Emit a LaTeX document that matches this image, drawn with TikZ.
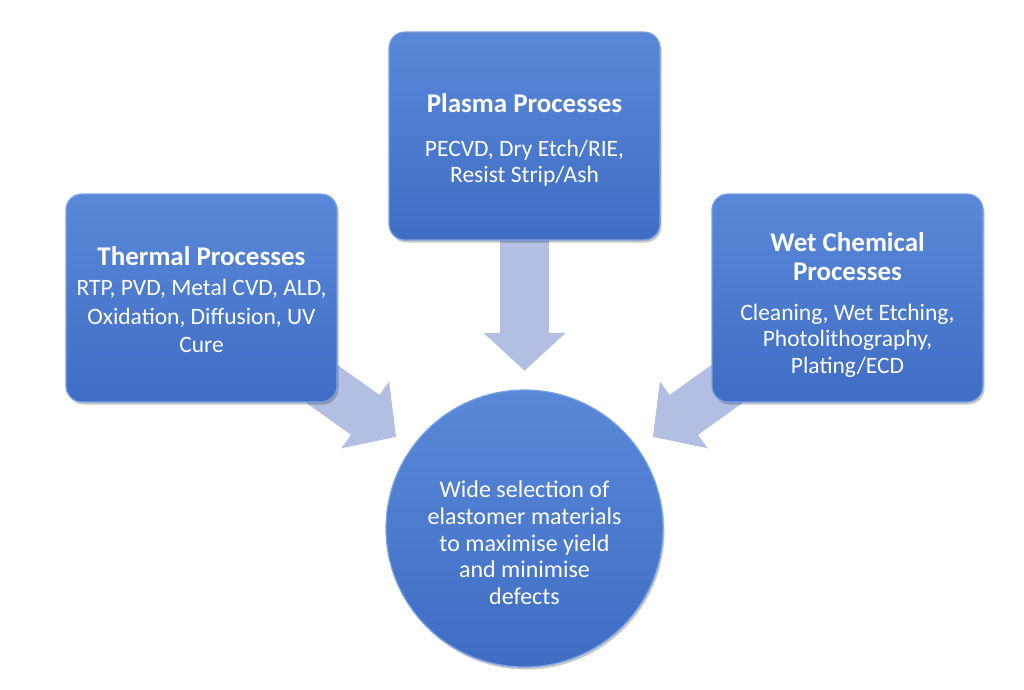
\documentclass[tikz,border=0pt]{standalone}
\usepackage{fontspec}
\setmainfont{Carlito}
\usetikzlibrary{arrows.meta}
\definecolor{boxtop}{HTML}{5A88D8}
\definecolor{boxbot}{HTML}{3F6DC4}
\definecolor{boxedge}{HTML}{7AA2E6}
\definecolor{arrowfill}{HTML}{B2BFE3}
\tikzset{
  procbox/.style={rectangle, rounded corners=16pt, minimum width=271pt, minimum height=208pt,
    top color=boxtop, bottom color=boxbot, draw=boxedge, line width=1.2pt, inner sep=0pt},
  boxshadow/.style={rectangle, rounded corners=16pt, minimum width=271pt, minimum height=208pt,
    fill=black, fill opacity=0.22, inner sep=0pt},
  hubcircle/.style={circle, minimum size=277pt, top color=boxtop, bottom color=boxbot,
    draw=boxedge, line width=1.2pt, inner sep=0pt},
  hubshadow/.style={circle, minimum size=277pt, fill=black, fill opacity=0.22, inner sep=0pt},
  tline/.style={text=white, anchor=base, inner sep=0pt, font=\fontsize{27}{30}\selectfont\bfseries},
  bline/.style={text=white, anchor=base, inner sep=0pt, font=\fontsize{23.5}{28}\selectfont},
  cline/.style={text=white, anchor=base, inner sep=0pt, font=\fontsize{24}{27}\selectfont},
  bigarrow/.style={draw=arrowfill, line width=49pt,
    -{Triangle[width=80pt,length=38pt]}, shorten >=19pt},
}
\begin{document}
\begin{tikzpicture}[x=1pt,y=-1pt]
\useasboundingbox (0,0) rectangle (1024,689);
% node positions
\coordinate (pThermal) at (201.5,298);
\coordinate (pPlasma) at (524.5,136);
\coordinate (pWet) at (847.5,298);
\node[circle, minimum size=277pt, inner sep=0pt] (hub) at (524.5,528.5) {};
% arrows (behind)
\draw[bigarrow] (pThermal) -- (hub);
\draw[bigarrow] (pPlasma) -- (hub);
\draw[bigarrow] (pWet) -- (hub);
% hub
\node[hubshadow] (hubsh) at (526,531) {};
\node[hubcircle] (hubfill) at (hub.center) {};
\node[cline] (c1) at (524.5,497.5) {Wide selection of};
\node[cline] (c2) at (524.5,524.5) {elastomer materials};
\node[cline] (c3) at (524.5,551) {to maximise yield};
\node[cline] (c4) at (524.5,577.5) {and minimise};
\node[cline] (c5) at (524.5,604) {defects};
% boxes
\node[boxshadow] (thermalsh) at (203,300.5) {};
\node[boxshadow] (plasmash) at (526,138.5) {};
\node[boxshadow] (wetsh) at (849,300.5) {};
\node[procbox] (thermal) at (pThermal) {};
\node[procbox] (plasma) at (pPlasma) {};
\node[procbox] (wet) at (pWet) {};
% thermal texts
\node[tline] (th0) at (201.5,265.5) {Thermal Processes};
\node[bline] (th1) at (201.5,295) {RTP, PVD, Metal CVD, ALD,};
\node[bline] (th2) at (201.5,324) {Oxidation, Diffusion, UV};
\node[bline] (th3) at (201.5,352) {Cure};
% plasma texts
\node[tline] (pl0) at (524.5,112) {Plasma Processes};
\node[bline] (pl1) at (524.5,156) {PECVD, Dry Etch/RIE,};
\node[bline] (pl2) at (524.5,182) {Resist Strip/Ash};
% wet texts
\node[tline] (we0) at (847.5,251) {Wet Chemical};
\node[tline] (we1) at (847.5,280) {Processes};
\node[bline] (we2) at (847.5,320) {Cleaning, Wet Etching,};
\node[bline] (we3) at (847.5,346.5) {Photolithography,};
\node[bline] (we4) at (847.5,373) {Plating/ECD};
\end{tikzpicture}
\end{document}
